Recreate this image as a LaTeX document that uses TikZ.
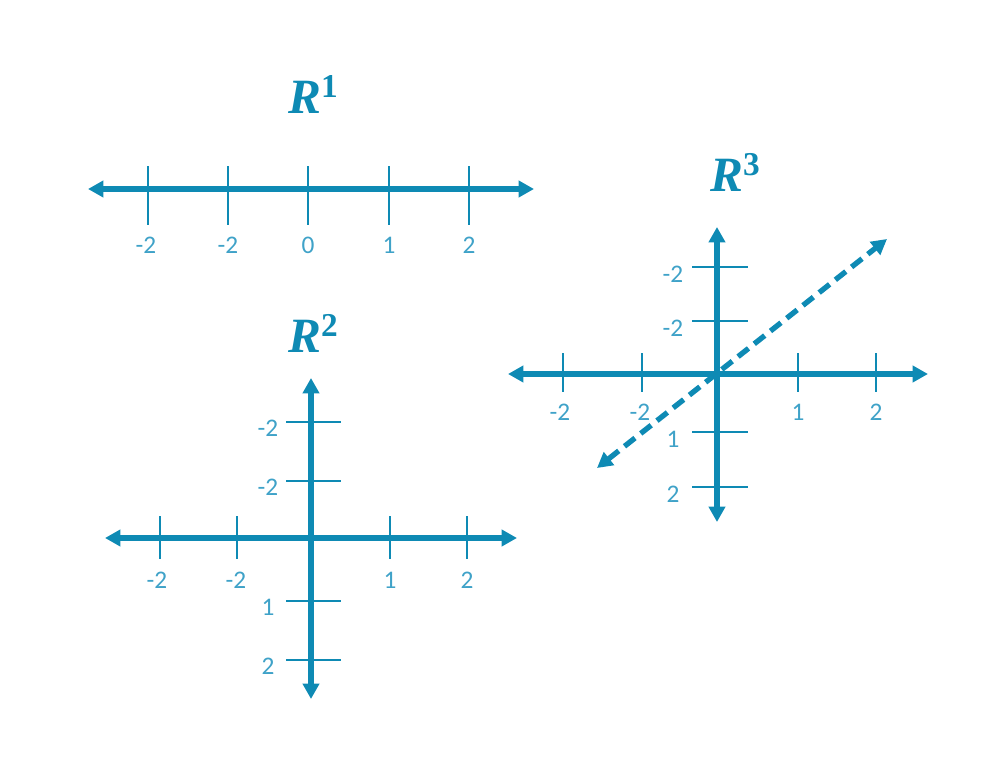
\documentclass[tikz,border=0pt]{standalone}
\usepackage{fontspec}
\setmainfont{Carlito}
\newfontfamily\titlefont{Liberation Serif}
\usetikzlibrary{arrows.meta}
\definecolor{axiscol}{HTML}{0E8AB4}
\definecolor{labcol}{HTML}{3FA2C8}
\newcommand{\ttl}[1]{R\raisebox{12pt}{\upshape\fontsize{25}{28}\selectfont #1}}
\tikzset{
  axis/.style={axiscol, line width=4pt, {Triangle[length=11.5pt,width=12pt]}-{Triangle[length=11.5pt,width=12pt]}},
  dashaxis/.style={axiscol, line width=4pt, dash pattern=on 10pt off 5.5pt, {Triangle[length=11.5pt,width=12pt]}-{Triangle[length=11.5pt,width=12pt]}},
  tick/.style={axiscol, line width=2.2pt},
  lab/.style={labcol, font=\fontsize{19}{22}\selectfont, inner sep=0pt},
  title/.style={axiscol, font=\titlefont\bfseries\itshape\fontsize{37}{40}\selectfont, inner sep=0pt}
}
\begin{document}
\begin{tikzpicture}[x=0.75pt,y=-0.75pt]
\useasboundingbox (0,0) rectangle (1005,774);
% ---------- R1 ----------
\node[title] (t1) at (313,94) {\ttl{1}};
\coordinate (a1l) at (88,189);
\coordinate (a1r) at (534,189);
\draw[axis] (a1l) -- (a1r);
\foreach \x/\lx/\l/\n in {148/146/-2/a,228/228/-2/b,308/308/0/c,389/389/1/d,469/469/2/e}{
  \coordinate (k1\n t) at (\x,166);
  \coordinate (k1\n b) at (\x,225);
  \draw[tick] (k1\n t) -- (k1\n b);
  \node[lab] (l1\n) at (\lx,245) {\l};
}
% ---------- R2 ----------
\node[title] (t2) at (313,333) {\ttl{2}};
\coordinate (a2l) at (105,538);
\coordinate (a2r) at (517,538);
\coordinate (a2t) at (311,378);
\coordinate (a2b) at (311,699);
\draw[axis] (a2l) -- (a2r);
\draw[axis] (a2t) -- (a2b);
\foreach \x/\lx/\l/\n in {160/157/-2/a,237/236/-2/b,390/390/1/c,467/467/2/d}{
  \coordinate (k2\n t) at (\x,516);
  \coordinate (k2\n b) at (\x,559);
  \draw[tick] (k2\n t) -- (k2\n b);
  \node[lab] (l2\n) at (\lx,580) {\l};
}
\foreach \y/\l/\n in {422/-2/a,481/-2/b,601/1/c,660/2/d}{
  \coordinate (v2\n l) at (286,\y);
  \coordinate (v2\n r) at (341,\y);
  \draw[tick] (v2\n l) -- (v2\n r);
  \node[lab] (m2\n) at (268,\y+6) {\l};
}
% ---------- R3 ----------
\node[title] (t3) at (735,172) {\ttl{3}};
\coordinate (a3l) at (508,374);
\coordinate (a3r) at (928,374);
\coordinate (a3t) at (717,227);
\coordinate (a3b) at (717,522);
\coordinate (d3a) at (597,468);
\coordinate (d3b) at (887,239);
\draw[axis] (a3l) -- (a3r);
\draw[axis] (a3t) -- (a3b);
\foreach \x/\lx/\l/\n in {563/560/-2/a,642/640/-2/b,798/798/1/c,876/876/2/d}{
  \coordinate (k3\n t) at (\x,353);
  \coordinate (k3\n b) at (\x,392);
  \draw[tick] (k3\n t) -- (k3\n b);
  \node[lab] (l3\n) at (\lx,412) {\l};
}
\foreach \y/\l/\n in {267/-2/a,321/-2/b,432/1/c,487/2/d}{
  \coordinate (v3\n l) at (692,\y);
  \coordinate (v3\n r) at (748,\y);
  \draw[tick] (v3\n l) -- (v3\n r);
  \node[lab] (m3\n) at (673,\y+7) {\l};
}
\draw[dashaxis] (d3a) -- (d3b);
\end{tikzpicture}
\end{document}
